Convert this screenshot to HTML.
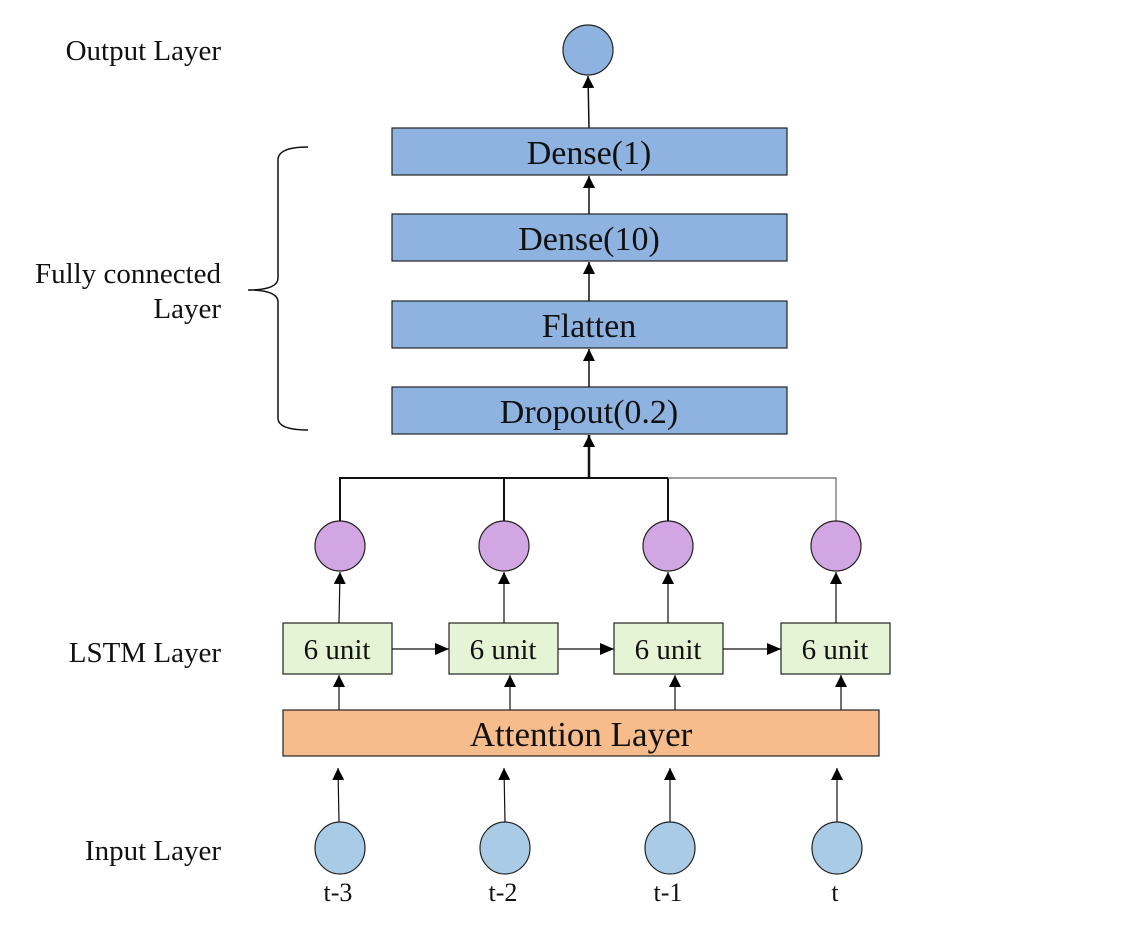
<!DOCTYPE html>
<html><head><meta charset="utf-8"><style>
html,body{margin:0;padding:0;background:#fff;}
svg{display:block;}
text{font-family:"Liberation Serif",serif;fill:#111;}
</style></head><body>
<svg width="1126" height="936" viewBox="0 0 1126 936" xmlns="http://www.w3.org/2000/svg">
<defs>
<marker id="a" markerWidth="12" markerHeight="12" refX="12" refY="6" orient="auto" markerUnits="userSpaceOnUse" viewBox="0 0 12 12">
<path d="M0,0 L12,6 L0,12 Z" fill="#000"/></marker>
<marker id="r" markerWidth="14" markerHeight="12" refX="14" refY="6" orient="auto" markerUnits="userSpaceOnUse" viewBox="0 0 14 12">
<path d="M0,0 L14,6 L0,12 Z" fill="#000"/></marker>
</defs>
<g font-size="29" text-anchor="end">
<text x="221" y="60">Output Layer</text>
<text x="221" y="283">Fully connected</text>
<text x="221" y="318">Layer</text>
<text x="221" y="662">LSTM Layer</text>
<text x="221" y="860">Input Layer</text>
</g>
<path d="M308,147 Q278,147 278,160 L278,278 Q278,290 248,290 Q278,290 278,302 L278,418 Q278,430 308,430" fill="none" stroke="#111" stroke-width="1.5"/>
<circle cx="588" cy="50" r="25" fill="#8fb3e0" stroke="#222" stroke-width="1.2"/>
<line x1="589" y1="128" x2="588" y2="76" stroke="#111" stroke-width="1.5" marker-end="url(#a)"/>
<g fill="#8fb3e0" stroke="#222" stroke-width="1.2">
<rect x="392" y="128" width="395" height="47"/>
<rect x="392" y="214" width="395" height="47"/>
<rect x="392" y="301" width="395" height="47"/>
<rect x="392" y="387" width="395" height="47"/>
</g>
<g font-size="34" text-anchor="middle">
<text x="589" y="164">Dense(1)</text>
<text x="589" y="250">Dense(10)</text>
<text x="589" y="337">Flatten</text>
<text x="589" y="423">Dropout(0.2)</text>
</g>
<g stroke="#111" stroke-width="1.5">
<line x1="589" y1="214" x2="589" y2="176" marker-end="url(#a)"/>
<line x1="589" y1="301" x2="589" y2="262" marker-end="url(#a)"/>
<line x1="589" y1="387" x2="589" y2="349" marker-end="url(#a)"/>
<line x1="589" y1="478" x2="589" y2="435" stroke-width="2.5" marker-end="url(#a)"/>
</g>
<path d="M340,521 L340,478 L668,478 M504,521 L504,478 M668,521 L668,478" fill="none" stroke="#111" stroke-width="2"/>
<path d="M668,478 L836,478 L836,521" fill="none" stroke="#666" stroke-width="1.2"/>
<g fill="#d1a6e3" stroke="#222" stroke-width="1.2">
<circle cx="340" cy="546" r="25"/><circle cx="504" cy="546" r="25"/>
<circle cx="668" cy="546" r="25"/><circle cx="836" cy="546" r="25"/>
</g>
<g fill="#e6f4d6" stroke="#222" stroke-width="1.2">
<rect x="283" y="623" width="109" height="51"/>
<rect x="449" y="623" width="109" height="51"/>
<rect x="614" y="623" width="109" height="51"/>
<rect x="781" y="623" width="109" height="51"/>
</g>
<g font-size="29" text-anchor="middle">
<text x="337" y="659">6 unit</text><text x="503" y="659">6 unit</text>
<text x="668" y="659">6 unit</text><text x="835" y="659">6 unit</text>
</g>
<g stroke="#111" stroke-width="1.2">
<line x1="392" y1="649" x2="449" y2="649" marker-end="url(#r)"/>
<line x1="558" y1="649" x2="614" y2="649" marker-end="url(#r)"/>
<line x1="723" y1="649" x2="781" y2="649" marker-end="url(#r)"/>
<line x1="339" y1="623" x2="340" y2="572" marker-end="url(#a)"/>
<line x1="504" y1="623" x2="504" y2="572" marker-end="url(#a)"/>
<line x1="668" y1="623" x2="668" y2="572" marker-end="url(#a)"/>
<line x1="836" y1="623" x2="836" y2="572" marker-end="url(#a)"/>
<line x1="339" y1="710" x2="339" y2="675" marker-end="url(#a)"/>
<line x1="510" y1="710" x2="510" y2="675" marker-end="url(#a)"/>
<line x1="675" y1="710" x2="675" y2="675" marker-end="url(#a)"/>
<line x1="841" y1="710" x2="841" y2="675" marker-end="url(#a)"/>
</g>
<rect x="283" y="710" width="596" height="46" fill="#f7bc8c" stroke="#222" stroke-width="1.2"/>
<text x="581" y="746" font-size="35" text-anchor="middle">Attention Layer</text>
<g stroke="#111" stroke-width="1.2">
<line x1="339" y1="822" x2="338" y2="768" marker-end="url(#a)"/>
<line x1="505" y1="822" x2="504" y2="768" marker-end="url(#a)"/>
<line x1="670" y1="822" x2="670" y2="768" marker-end="url(#a)"/>
<line x1="837" y1="822" x2="837" y2="768" marker-end="url(#a)"/>
</g>
<g fill="#a9cbe6" stroke="#222" stroke-width="1.2">
<ellipse cx="340" cy="848" rx="25" ry="26"/><ellipse cx="505" cy="848" rx="25" ry="26"/>
<ellipse cx="670" cy="848" rx="25" ry="26"/><ellipse cx="837" cy="848" rx="25" ry="26"/>
</g>
<g font-size="26" text-anchor="middle">
<text x="338" y="901">t-3</text><text x="503" y="901">t-2</text>
<text x="668" y="901">t-1</text><text x="835" y="901">t</text>
</g>
</svg>
</body></html>
